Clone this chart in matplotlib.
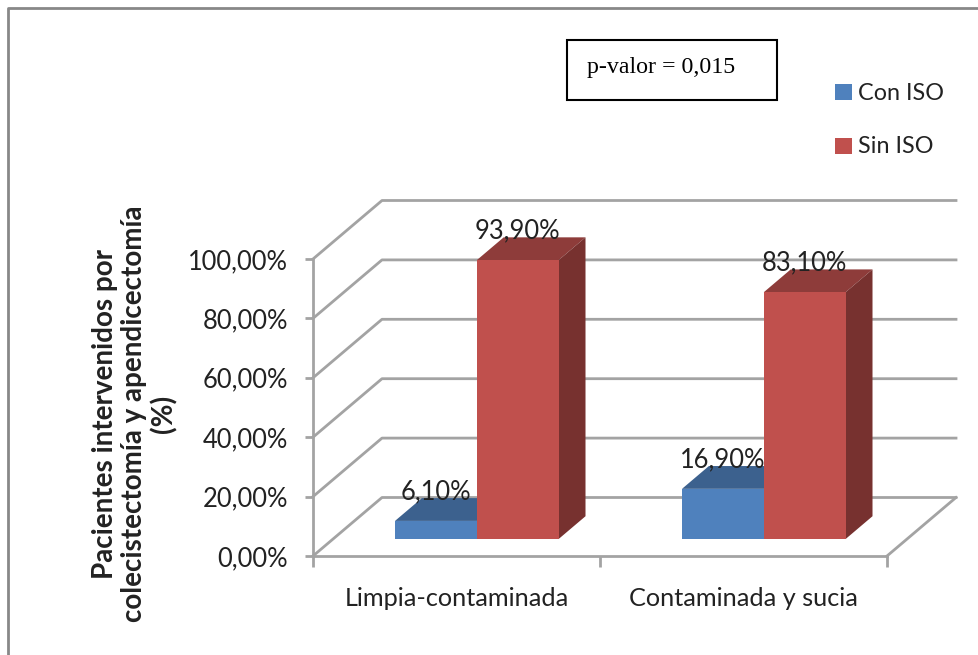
import matplotlib
matplotlib.use("Agg")
import matplotlib.pyplot as plt
from matplotlib.lines import Line2D
from matplotlib.patches import Polygon, Rectangle

W, H = 979, 655

categories = ["Limpia-contaminada", "Contaminada y sucia"]
con_iso = [6.1, 16.9]
sin_iso = [93.9, 83.1]
con_labels = ["6,10%", "16,90%"]
sin_labels = ["93,90%", "83,10%"]
y_ticks = [0, 20, 40, 60, 80, 100]
y_tick_labels = ["0,00%", "20,00%", "40,00%", "60,00%", "80,00%", "100,00%"]

plt.rcParams['font.family'] = ['Lato', 'DejaVu Sans']
text_col = '#222222'
grid_col = '#a3a3a3'

fig = plt.figure(figsize=(W / 100, H / 100), dpi=100, facecolor='white')

# outer frame of the pasted picture
fig.add_artist(Line2D([8 / W, 8 / W, 1], [0, 1 - 8 / H, 1 - 8 / H], color='#888888', lw=2))

# front plane of the fake 3D box
left, right, top, bottom = 313, 887, 259, 556
ax = fig.add_axes([left / W, 1 - bottom / H, (right - left) / W, (bottom - top) / H])
ax.set_xlim(0, 2)
ax.set_ylim(0, 100)
ax.patch.set_alpha(0)

# oblique offsets, in data units
depth_x = 69 / 287
depth_y = 58.5 / 2.97


def shift(x, y, d):
    return (x + depth_x * d, y + depth_y * d)


# walls
for v in y_ticks:
    ax.plot([0, depth_x, 2 + depth_x], [v, v + depth_y, v + depth_y],
            color=grid_col, lw=2, clip_on=False, zorder=1)
ax.plot([2, 2 + depth_x], [0, depth_y], color=grid_col, lw=2, clip_on=False, zorder=1)

# bars
d0 = 0.29
d1 = 0.68
bar_w = 0.285
gap = 0.216


def draw_bar(x0, val, front, top_c, side_c, z):
    x1 = x0 + bar_w
    ax.add_patch(Polygon([shift(x0, val, d0), shift(x1, val, d0), shift(x1, val, d1), shift(x0, val, d1)],
                         fc=top_c, ec='none', clip_on=False, zorder=z))
    ax.add_patch(Polygon([shift(x1, 0, d0), shift(x1, val, d0), shift(x1, val, d1), shift(x1, 0, d1)],
                         fc=side_c, ec='none', clip_on=False, zorder=z))
    ax.add_patch(Polygon([shift(x0, 0, d0), shift(x1, 0, d0), shift(x1, val, d0), shift(x0, val, d0)],
                         fc=front, ec='none', clip_on=False, zorder=z))


def bar_label(x, val, s):
    # label sits about 30 px above the middle of the front face
    ax.annotate(s, shift(x, val, d0), xytext=(0, 21), textcoords='offset points',
                ha='center', va='center', fontsize=18.4, color=text_col,
                zorder=5, annotation_clip=False)


for i in range(len(categories)):
    xb = i + gap
    draw_bar(xb, con_iso[i], '#4f81bd', '#3c618e', '#2f4d71', 3)
    draw_bar(xb + bar_w, sin_iso[i], '#c0504d', '#8e3c3a', '#77312f', 4)
    bar_label(xb + bar_w / 2, con_iso[i], con_labels[i])
    bar_label(xb + bar_w * 1.5, sin_iso[i], sin_labels[i])

# axes
for s in ['top', 'right']:
    ax.spines[s].set_visible(False)
for s in ['left', 'bottom']:
    ax.spines[s].set_color(grid_col)
    ax.spines[s].set_linewidth(2)
ax.set_yticks(y_ticks)
ax.set_yticklabels(y_tick_labels)
ax.set_xticks([0, 1, 2])
ax.set_xticklabels([])
ax.set_xticks([0.5, 1.5], minor=True)
ax.set_xticklabels(categories, minor=True)
ax.tick_params(axis='y', color=grid_col, width=2, length=6, labelsize=18.4, labelcolor=text_col, pad=12)
ax.tick_params(axis='x', which='major', color=grid_col, width=2, length=8)
ax.tick_params(axis='x', which='minor', length=0, labelsize=18.2, labelcolor=text_col, pad=22)

fig.text(135 / W, 1 - 414 / H,
         "Pacientes intervenidos por\ncolecistectomía y apendicectomía\n(%)",
         rotation=90, ha='center', va='center', fontsize=20, fontweight='bold',
         color=text_col, linespacing=1.15)

# p-value box
fig.add_artist(Rectangle((567 / W, 1 - 100 / H), 210 / W, 60 / H, transform=fig.transFigure,
                         fc='white', ec='black', lw=1.5))
fig.text(587 / W, 1 - 68 / H, "p-valor = 0,015", family='Liberation Serif', fontsize=17.2,
         color='black', ha='left', va='center')

# legend
legend_names = ["Con ISO", "Sin ISO"]
legend_cols = ['#4f81bd', '#c0504d']
for name, col, yc in zip(legend_names, legend_cols, [92, 146]):
    fig.add_artist(Rectangle((835 / W, 1 - (yc + 8) / H), 17 / W, 16 / H, transform=fig.transFigure,
                             fc=col, ec='none'))
    fig.text(858 / W, 1 - (yc + 1) / H, name, fontsize=16.8, color=text_col, ha='left', va='center')

fig.savefig("out.png", dpi=100)
